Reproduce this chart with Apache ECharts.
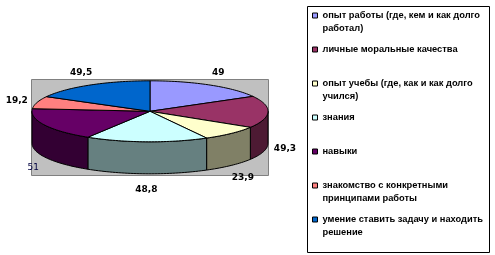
<!DOCTYPE html>
<html><head><meta charset="utf-8">
<script src="https://cdn.jsdelivr.net/npm/echarts@6/dist/echarts.min.js"></script>
<style>html,body{margin:0;padding:0;background:#fff}#c{width:495px;height:255px}</style>
</head><body><div id="c"></div>
<script>
const categories = [
  'опыт работы (где, кем и как долго работал)',
  'личные моральные качества',
  'опыт учебы (где, как и как долго учился)',
  'знания',
  'навыки',
  'знакомство с конкретными принципами работы',
  'умение ставить задачу и находить решение'
];
const values = [49, 49.3, 23.9, 48.8, 51, 19.2, 49.5];
const colors = ['#9999FF', '#993366', '#FFFFCC', '#CCFFFF', '#660066', '#FF8080', '#0066CC'];

// geometry of the pseudo-3D pie
const CX = 150, CY = 111.3, RX = 118, RY = 30.5, DEPTH = 32;
const total = values.reduce((a, b) => a + b, 0);
function startAngle(i) { let s = 0; for (let k = 0; k < i; k++) s += values[k]; return s / total * 2 * Math.PI; }
function pt(t, dy) { return [CX + RX * Math.sin(t), CY - RY * Math.cos(t) + (dy || 0)]; }
function arc(a, b, dy) {
  const n = Math.max(2, Math.ceil((b - a) / (Math.PI / 120)));
  const p = [];
  for (let j = 0; j <= n; j++) p.push(pt(a + (b - a) * j / n, dy));
  return p;
}
function dark(hex) {
  const n = parseInt(hex.slice(1), 16);
  const r = (n >> 16) & 255, g = (n >> 8) & 255, b = n & 255;
  return 'rgb(' + Math.round(r / 2) + ',' + Math.round(g / 2) + ',' + Math.round(b / 2) + ')';
}
function fmt(v) { return String(v).replace('.', ','); }
const labelOverride = { 4: { fill: '#000040', font: 'normal 9px "DejaVu Sans"', dx: 4, dy: 2 }, 5: { dx: -4 } };

// legend text wrapping
const LEG_FONT = 'bold 9.3px "Liberation Sans"';
const LEG_W = 166;
const mctx = document.createElement('canvas').getContext('2d');
mctx.font = LEG_FONT;
function wrap(name) {
  const words = name.split(' ');
  const lines = []; let cur = '';
  words.forEach(w => {
    const t = cur ? cur + ' ' + w : w;
    if (mctx.measureText(t).width > LEG_W && cur) { lines.push(cur); cur = w; } else cur = t;
  });
  lines.push(cur);
  return lines;
}

const chart = echarts.init(document.getElementById('c'), null, { renderer: 'canvas' });
chart.setOption({
  animation: false,
  graphic: [
    { type: 'rect', z: 0, shape: { x: 31.5, y: 79.5, width: 237, height: 96 }, style: { fill: '#C0C0C0', stroke: '#808080', lineWidth: 1 } },
    { type: 'rect', z: 0, shape: { x: 307.5, y: 6.5, width: 182, height: 246 }, style: { fill: '#fff', stroke: '#000', lineWidth: 1 } }
  ],
  legend: {
    orient: 'vertical',
    left: 312, top: -4,
    padding: 0,
    itemGap: -5,
    itemWidth: 5, itemHeight: 5,
    icon: 'rect',
    selectedMode: false,
    itemStyle: { borderColor: '#000', borderWidth: 1 },
    textStyle: { font: LEG_FONT, fontFamily: 'Liberation Sans', fontWeight: 'bold', fontSize: 9.3, lineHeight: 13, color: '#000' },
    formatter: function (name) {
      const l = wrap(name);
      return l.length === 1 ? '\n' + l[0] + '\n' : '\n' + l[0] + '\n' + l.slice(1).join(' ');
    },
    data: categories
  },
  series: categories.map((name, i) => ({
    type: 'custom',
    name: name,
    coordinateSystem: 'none',
    data: [values[i]],
    itemStyle: { color: colors[i] },
    renderItem: function (params, api) {
      const v = api.value(0);
      const a = startAngle(i), b = a + v / total * 2 * Math.PI;
      const children = [];
      const lo = Math.max(a, Math.PI / 2), hi = Math.min(b, 1.5 * Math.PI);
      if (hi > lo) {
        const top = arc(lo, hi, 0);
        const bot = arc(lo, hi, DEPTH).reverse();
        children.push({ type: 'polygon', shape: { points: top.concat(bot) }, style: { fill: dark(colors[i]), stroke: '#000', lineWidth: 1 } });
      }
      children.push({ type: 'polygon', shape: { points: [[CX, CY]].concat(arc(a, b, 0)) }, style: { fill: colors[i], stroke: '#000', lineWidth: 1 } });
      const m = (a + b) / 2, s = Math.sin(m), c = Math.cos(m);
      const ov = labelOverride[i] || {};
      const lx = CX + (RX + 17) * s + (ov.dx || 0);
      const ly = (c >= 0 ? CY + 3.5 - (RY + 18) * c : CY + 36 - 42 * c) + (ov.dy || 0);
      children.push({ type: 'text', z2: 10, style: { text: fmt(v), x: lx, y: ly, align: 'center', verticalAlign: 'middle', font: ov.font || 'bold 9px "DejaVu Sans"', fill: ov.fill || '#000' } });
      return { type: 'group', children: children };
    }
  }))
});
</script></body></html>
